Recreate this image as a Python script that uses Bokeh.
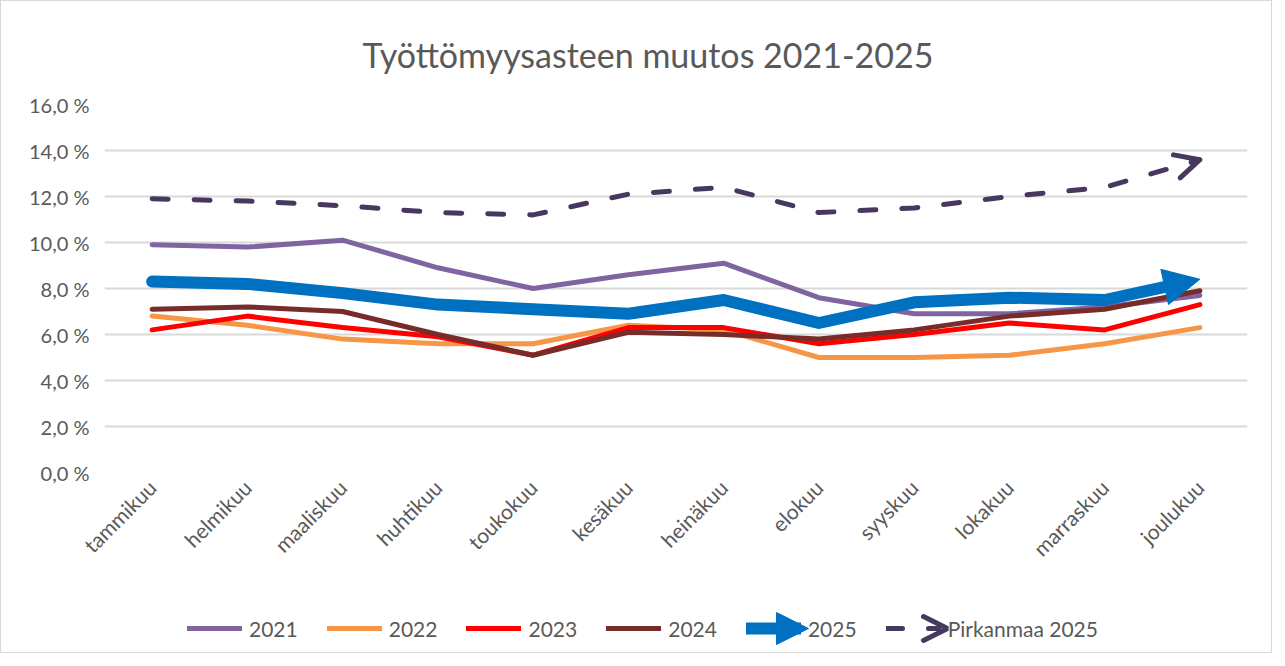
from bokeh.plotting import figure
from bokeh.layouts import column
from bokeh.models import (ColumnDataSource, FixedTicker, Legend, LegendItem, Arrow,
                          NormalHead, OpenHead)
from bokeh.embed import file_html
from bokeh.resources import INLINE

# ---------------- data ----------------
months = ["tammikuu", "helmikuu", "maaliskuu", "huhtikuu", "toukokuu", "kesäkuu",
          "heinäkuu", "elokuu", "syyskuu", "lokakuu", "marraskuu", "joulukuu"]
v2021 = [9.9, 9.8, 10.1, 8.9, 8.0, 8.6, 9.1, 7.6, 6.9, 6.9, 7.2, 7.7]
v2022 = [6.8, 6.4, 5.8, 5.6, 5.6, 6.4, 6.2, 5.0, 5.0, 5.1, 5.6, 6.3]
v2023 = [6.2, 6.8, 6.3, 5.9, 5.1, 6.3, 6.3, 5.6, 6.0, 6.5, 6.2, 7.3]
v2024 = [7.1, 7.2, 7.0, 6.0, 5.1, 6.1, 6.0, 5.8, 6.2, 6.8, 7.1, 7.9]
v2025 = [8.3, 8.2, 7.8, 7.3, 7.1, 6.9, 7.5, 6.5, 7.4, 7.6, 7.5, 8.4]
pirkanmaa = [11.9, 11.8, 11.6, 11.3, 11.2, 12.1, 12.4, 11.3, 11.5, 12.0, 12.4, 13.6]
series_labels = ["2021", "2022", "2023", "2024", "2025", "Pirkanmaa 2025"]
y_ticks = [0, 2, 4, 6, 8, 10, 12, 14, 16]
y_tick_labels = ["0,0 %", "2,0 %", "4,0 %", "6,0 %", "8,0 %", "10,0 %", "12,0 %", "14,0 %", "16,0 %"]
title_text = "Työttömyysasteen muutos 2021-2025"

FONT = "Lato"
TXT = "#595959"
C21, C22, C23, C24, C25, CP = "#8064A2", "#F79646", "#FF0000", "#772C2A", "#0070C0", "#46385E"
DASH = "16 26"

xs = list(range(len(months)))
W = 1270
H_MAIN = 587
H_LEG = 64

p = figure(width=W, height=H_MAIN, output_backend="svg", toolbar_location=None,
           x_range=(-0.5, len(months) - 0.5), y_range=(0, 16),
           min_border_left=103, min_border_right=24, min_border_top=97, min_border_bottom=116)
p.outline_line_color = None
p.background_fill_color = "white"
p.border_fill_color = "white"

p.title.text = title_text
p.title.align = "left"
p.title.offset = 258
p.title.text_font = FONT
p.title.text_font_size = "34px"
p.title.text_font_style = "normal"
p.title.text_color = TXT
p.title.standoff = 60

# axes
p.yaxis.ticker = FixedTicker(ticks=y_ticks)
p.yaxis.major_label_overrides = {k: s for k, s in zip(y_ticks, y_tick_labels)}
p.xaxis.ticker = FixedTicker(ticks=xs)
p.xaxis.major_label_overrides = {i: m for i, m in zip(xs, months)}
p.xaxis.major_label_orientation = 0.785398
for ax in (p.xaxis, p.yaxis):
    ax.axis_line_color = None
    ax.major_tick_line_color = None
    ax.minor_tick_line_color = None
    ax.major_label_text_font = FONT
    ax.major_label_text_color = TXT
p.yaxis.major_label_text_font_size = "20px"
p.xaxis.major_label_text_font_size = "21px"
p.yaxis.major_label_standoff = 9
p.xaxis.major_label_standoff = 5
p.xgrid.grid_line_color = None
p.ygrid.ticker = FixedTicker(ticks=y_ticks)
p.ygrid.grid_line_color = "#D9D9D9"
p.ygrid.grid_line_width = 2

src = ColumnDataSource(dict(x=xs, v2021=v2021, v2022=v2022, v2023=v2023, v2024=v2024,
                            v2025=v2025, pirk=pirkanmaa))

p.line("x", "v2021", source=src, line_color=C21, line_width=5, line_join="round", line_cap="round")
p.line("x", "v2022", source=src, line_color=C22, line_width=5, line_join="round", line_cap="round")
p.line("x", "v2023", source=src, line_color=C23, line_width=5, line_join="round", line_cap="round")
p.line("x", "v2024", source=src, line_color=C24, line_width=5, line_join="round", line_cap="round")

# 2025: line up to the second-to-last point, final segment drawn as an arrow
src25 = ColumnDataSource(dict(x=xs[:-1], y=v2025[:-1]))
p.line("x", "y", source=src25, line_color=C25, line_width=12, line_join="round", line_cap="round")
arr_src25 = ColumnDataSource(dict(x0=[xs[-2]], y0=[v2025[-2]], x1=[xs[-1]], y1=[v2025[-1]]))
p.add_layout(Arrow(x_start="x0", y_start="y0", x_end="x1", y_end="y1", source=arr_src25,
                   line_color=C25, line_width=12,
                   end=NormalHead(size=36, fill_color=C25, line_color=C25, line_width=1)))

p.line("x", "pirk", source=src, line_color=CP, line_width=5, line_dash=DASH,
       line_cap="round", line_join="round")
arr_srcp = ColumnDataSource(dict(x0=[xs[-2]], y0=[pirkanmaa[-2]], x1=[xs[-1]], y1=[pirkanmaa[-1]]))
p.add_layout(Arrow(x_start="x0", y_start="y0", x_end="x1", y_end="y1", source=arr_srcp,
                   line_alpha=0,
                   end=OpenHead(size=24, line_color=CP, line_width=5, line_cap="round")))

# ---------------- legend strip (its sample renderers lie outside the visible range) ----------------
leg = figure(width=W, height=H_LEG, output_backend="svg", toolbar_location=None,
             x_range=(100, 101), y_range=(100, 101), min_border=0,
             x_axis_location=None, y_axis_location=None)
leg.grid.grid_line_color = None
leg.outline_line_color = None
leg.background_fill_color = "white"
leg.border_fill_color = "white"

lr = [
    leg.line("x", "v2021", source=src, line_color=C21, line_width=5, line_cap="round"),
    leg.line("x", "v2022", source=src, line_color=C22, line_width=5, line_cap="round"),
    leg.line("x", "v2023", source=src, line_color=C23, line_width=5, line_cap="round"),
    leg.line("x", "v2024", source=src, line_color=C24, line_width=5, line_cap="round"),
    leg.line("x", "v2025", source=src, line_color=C25, line_width=12, line_cap="round"),
    leg.line("x", "pirk", source=src, line_color=CP, line_width=5, line_dash=DASH, line_cap="round"),
]
legend = Legend(items=[LegendItem(label=lab, renderers=[r]) for lab, r in zip(series_labels, lr)],
                orientation="horizontal", location=(83, 4), border_line_color=None,
                background_fill_alpha=0, glyph_width=55, glyph_height=40, label_standoff=7,
                spacing=29, padding=0, margin=0, label_text_font=FONT,
                label_text_font_size="21px", label_text_color=TXT)
leg.add_layout(legend)

# arrow heads of the legend samples (screen units inside the legend strip)
leg.add_layout(Arrow(x_start=673, y_start=24, x_end=704, y_end=24, start_units="screen",
                     end_units="screen", line_alpha=0,
                     end=NormalHead(size=32, fill_color=C25, line_color=C25, line_width=1)))
leg.add_layout(Arrow(x_start=818, y_start=24, x_end=843, y_end=24, start_units="screen",
                     end_units="screen", line_alpha=0,
                     end=OpenHead(size=24, line_color=CP, line_width=5, line_cap="round")))

layout = column(p, leg, spacing=0, styles={"border": "1px solid #D9D9D9"})

open("out.html", "w").write(file_html(layout, INLINE))
